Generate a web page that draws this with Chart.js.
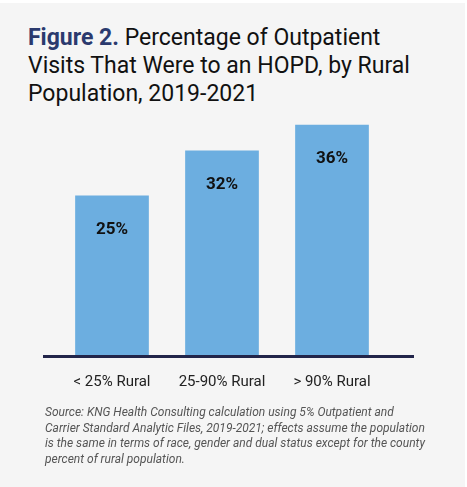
<!DOCTYPE html>
<html>
<head>
<meta charset="utf-8">
<script src="https://cdn.jsdelivr.net/npm/chart.js@4.4.1/dist/chart.umd.min.js"></script>
<style>
  html, body { margin: 0; padding: 0; background: #fff; }
  #panel { position: absolute; left: 0; top: 3px; width: 465px; height: 484px; background: #f5f5f5; }
  #title { position: absolute; left: 28px; top: 24px; width: 390px; font-family: "Roboto", "Liberation Sans", sans-serif;
    font-size: 23px; line-height: 28px; color: #111; }
  #title b { color: #2b3a6e; }
  #wrap { position: absolute; left: 43px; top: 90px; width: 371px; height: 318px; }
  #source { position: absolute; left: 45px; top: 405px; width: 380px; font-family: "Roboto", "Liberation Sans", sans-serif;
    font-style: italic; font-size: 12px; line-height: 15.5px; color: #555; }
</style>
</head>
<body>
<div id="panel"></div>
<div id="title"><b>Figure 2.</b> Percentage of Outpatient Visits That Were to an HOPD, by Rural Population, 2019-2021</div>
<div id="wrap"><canvas id="chart"></canvas></div>
<div id="source">Source: KNG Health Consulting calculation using 5% Outpatient and Carrier Standard Analytic Files, 2019-2021; effects assume the population is the same in terms of race, gender and dual status except for the county percent of rural population.</div>
<script>
const categories = ['< 25% Rural', '25-90% Rural', '> 90% Rural'];
const shares = [25, 32, 36];

// value labels inside bars and baseline across full width
const barLabels = {
    id: 'barLabels',
    afterDatasetsDraw(chart) {
        const ctx = chart.ctx;
        const meta = chart.getDatasetMeta(0);
        ctx.save();
        ctx.font = 'bold 17px "Roboto", "Liberation Sans", sans-serif';
        ctx.fillStyle = '#111';
        ctx.textAlign = 'center';
        ctx.textBaseline = 'middle';
        meta.data.forEach((bar, i) => {
            ctx.fillText(shares[i] + '%', bar.x, bar.y + 34);
        });
        const b = chart.chartArea.bottom;
        ctx.fillStyle = '#22254a';
        ctx.fillRect(0, b - 1, chart.width, 3);
        ctx.restore();
    }
};

new Chart(document.getElementById('chart'), {
    type: 'bar',
    data: {
        labels: categories,
        datasets: [{
            data: shares,
            backgroundColor: '#6caee0',
            barPercentage: 0.67,
            categoryPercentage: 1
        }]
    },
    options: {
        responsive: true,
        maintainAspectRatio: false,
        animation: false,
        layout: { padding: { left: 14, right: 27, top: 9, bottom: 8 } },
        plugins: { legend: { display: false }, tooltip: { enabled: false } },
        scales: {
            x: {
                grid: { display: false },
                border: { display: false },
                ticks: { color: '#222', padding: 9, font: { size: 15, family: '"Roboto", "Liberation Sans", sans-serif' } }
            },
            y: { display: false, min: 0, max: 40 }
        }
    },
    plugins: [barLabels]
});
</script>
</body>
</html>
